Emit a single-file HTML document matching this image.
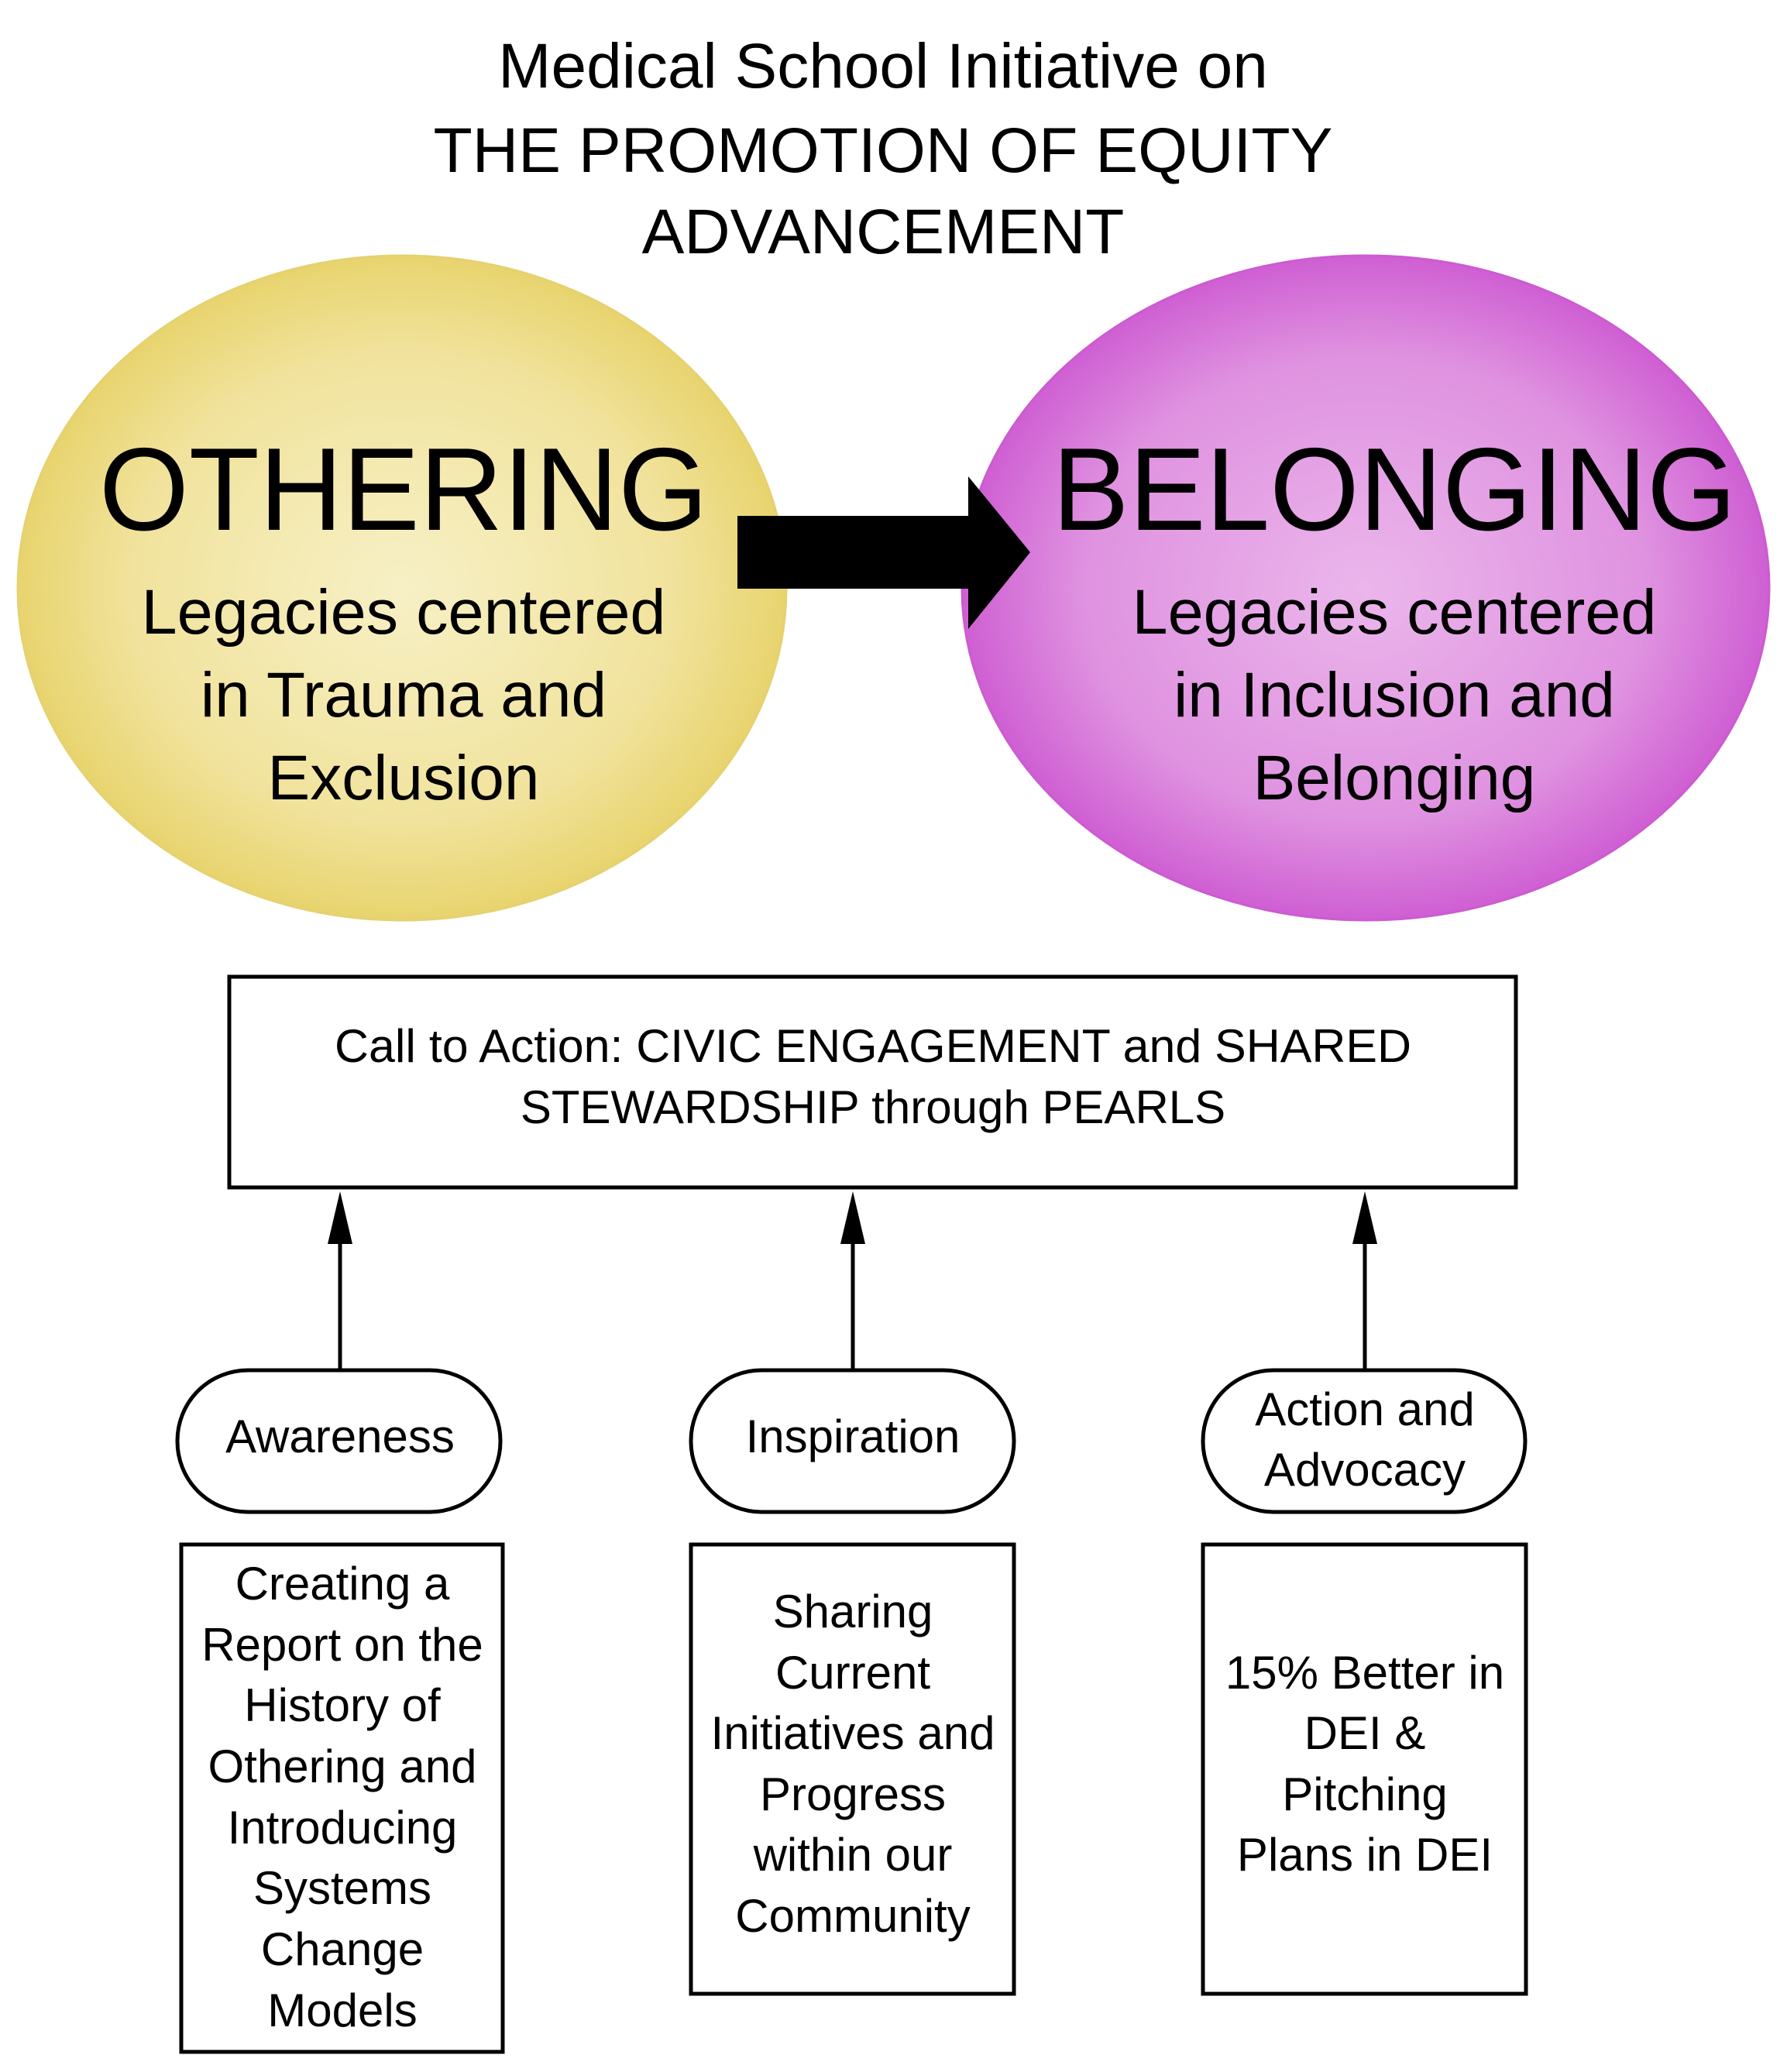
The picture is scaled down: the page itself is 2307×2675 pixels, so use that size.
<!DOCTYPE html>
<html><head><meta charset="utf-8"><style>
html,body{margin:0;padding:0;background:#fff}
svg{display:block}
text{font-family:"Liberation Sans",Arial,sans-serif;fill:#000}
</style></head><body>
<svg width="2307" height="2675" viewBox="0 0 2307 2675" xmlns="http://www.w3.org/2000/svg">
<defs>
<radialGradient id="gy" cx="50%" cy="50%" r="50%">
<stop offset="0" stop-color="#f7f0c6"/><stop offset="0.7" stop-color="#f1e39d"/><stop offset="1" stop-color="#e8d46e"/>
</radialGradient>
<radialGradient id="gp" cx="50%" cy="50%" r="50%">
<stop offset="0" stop-color="#ebb6eb"/><stop offset="0.7" stop-color="#df92e0"/><stop offset="1" stop-color="#cf5fd3"/>
</radialGradient>
</defs>
<g text-anchor="middle" font-size="82">
<text x="1140" y="113">Medical School Initiative on</text>
<text x="1140" y="222" textLength="1161" lengthAdjust="spacingAndGlyphs">THE PROMOTION OF EQUITY</text>
<text x="1140" y="327">ADVANCEMENT</text>
</g>
<ellipse cx="519" cy="759" rx="496" ry="429" fill="url(#gy)" stroke="#e6d170" stroke-width="3"/>
<ellipse cx="1763" cy="759" rx="521" ry="429" fill="url(#gp)" stroke="#cc5bd0" stroke-width="3"/>
<polygon points="952,666 1250,666 1250,615 1330,713 1250,812 1250,760 952,760" fill="#000"/>
<g text-anchor="middle">
<text x="521" y="684" font-size="152" textLength="786" lengthAdjust="spacingAndGlyphs">OTHERING</text>
<text x="1800" y="684" font-size="152" textLength="883" lengthAdjust="spacingAndGlyphs">BELONGING</text>
<g font-size="82">
<text x="521" y="818" textLength="677" lengthAdjust="spacingAndGlyphs">Legacies centered</text>
<text x="521" y="925">in Trauma and</text>
<text x="521" y="1032">Exclusion</text>
<text x="1800" y="818" textLength="677" lengthAdjust="spacingAndGlyphs">Legacies centered</text>
<text x="1800" y="925">in Inclusion and</text>
<text x="1800" y="1032">Belonging</text>
</g>
</g>
<g fill="none" stroke="#000" stroke-width="5">
<rect x="296" y="1261" width="1661" height="272"/>
<rect x="229" y="1769" width="417" height="183" rx="91"/>
<rect x="892" y="1769" width="417" height="183" rx="91"/>
<rect x="1553" y="1769" width="416" height="183" rx="91"/>
<rect x="234" y="1994" width="415" height="655"/>
<rect x="892" y="1994" width="417" height="580"/>
<rect x="1553" y="1994" width="417" height="580"/>
<line x1="439" y1="1769" x2="439" y2="1600"/>
<line x1="1101" y1="1769" x2="1101" y2="1600"/>
<line x1="1762" y1="1769" x2="1762" y2="1600"/>
</g>
<g fill="#000">
<polygon points="439,1538 423,1606 455,1606"/>
<polygon points="1101,1538 1085,1606 1117,1606"/>
<polygon points="1762,1538 1746,1606 1778,1606"/>
</g>
<g text-anchor="middle" font-size="60">
<text x="1127" y="1371" textLength="1390" lengthAdjust="spacingAndGlyphs">Call to Action: CIVIC ENGAGEMENT and SHARED</text>
<text x="1127" y="1450">STEWARDSHIP through PEARLS</text>
<text x="439" y="1875">Awareness</text>
<text x="1101" y="1875">Inspiration</text>
<text x="1762" y="1840">Action and</text>
<text x="1762" y="1918">Advocacy</text>
<text x="442" y="2065">Creating a</text>
<text x="442" y="2144">Report on the</text>
<text x="442" y="2222">History of</text>
<text x="442" y="2301">Othering and</text>
<text x="442" y="2380">Introducing</text>
<text x="442" y="2458">Systems</text>
<text x="442" y="2537">Change</text>
<text x="442" y="2616">Models</text>
<text x="1101" y="2101">Sharing</text>
<text x="1101" y="2180">Current</text>
<text x="1101" y="2258">Initiatives and</text>
<text x="1101" y="2337">Progress</text>
<text x="1101" y="2415">within our</text>
<text x="1101" y="2494">Community</text>
<text x="1762" y="2180">15% Better in</text>
<text x="1762" y="2258">DEI &amp;</text>
<text x="1762" y="2337">Pitching</text>
<text x="1762" y="2415">Plans in DEI</text>
</g>
</svg>
</body></html>
